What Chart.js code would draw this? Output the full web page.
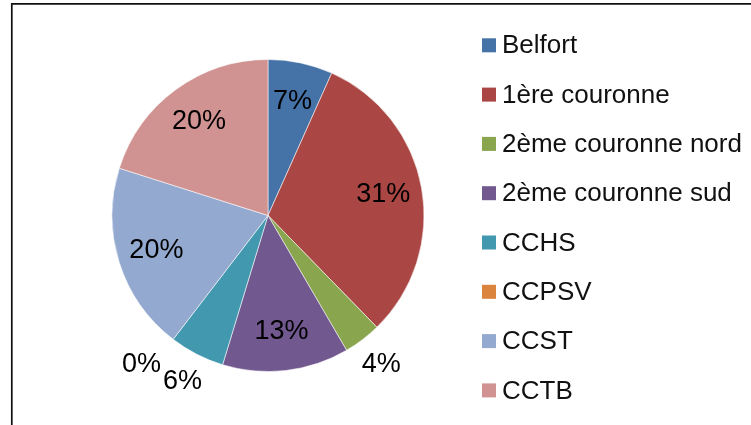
<!DOCTYPE html>
<html>
<head>
<meta charset="utf-8">
<script src="https://cdn.jsdelivr.net/npm/chart.js@4/dist/chart.umd.min.js"></script>
<style>
  html, body { margin: 0; padding: 0; background: #fff; }
  canvas { display: block; }
</style>
</head>
<body>
<canvas id="chart" width="751" height="425"></canvas>
<script>
// Share per zone
const zones = ['Belfort', '1ère couronne', '2ème couronne nord', '2ème couronne sud', 'CCHS', 'CCPSV', 'CCST', 'CCTB'];
const shares = [6.7, 31.0, 3.9, 13.1, 5.7, 0, 19.5, 20.1];
const colors = ['#4572A7', '#AA4643', '#89A54E', '#71588F', '#4198AF', '#DB843D', '#93A9CF', '#D19392'];

const FONT = '26px "Liberation Sans", Arial, sans-serif';
const LABEL_FONT = '27px "Liberation Sans", Arial, sans-serif';

// outer frame (top + left border of the original chart box)
const framePlugin = {
  id: 'frame',
  beforeDraw(chart) {
    const ctx = chart.ctx;
    ctx.save();
    ctx.strokeStyle = '#111';
    ctx.lineWidth = 1.7;
    ctx.beginPath();
    ctx.moveTo(11.8, 425);
    ctx.lineTo(11.8, 3.8);
    ctx.lineTo(751, 3.8);
    ctx.stroke();
    ctx.restore();
  }
};

// percentage labels, inside big slices, outside small ones
const pctLabels = {
  id: 'pctLabels',
  afterDatasetsDraw(chart) {
    const ctx = chart.ctx;
    const data = chart.data.datasets[0].data;
    const total = data.reduce((a, b) => a + b, 0);
    const placed = [];
    ctx.save();
    ctx.font = LABEL_FONT;
    ctx.fillStyle = '#000';
    ctx.textAlign = 'center';
    ctx.textBaseline = 'middle';
    chart.getDatasetMeta(0).data.forEach((arc, i) => {
      const p = arc.getProps(['x', 'y', 'startAngle', 'endAngle', 'outerRadius'], true);
      const pct = data[i] / total * 100;
      const txt = Math.round(pct) + '%';
      const mid = (p.startAngle + p.endAngle) / 2;
      const inside = pct >= 6.5;
      const r = p.outerRadius * (inside ? 0.75 : 1.2);
      let x = p.x + Math.cos(mid) * r;
      let y = p.y + Math.sin(mid) * r;
      const w = ctx.measureText(txt).width, h = 22;
      if (!inside) {
        placed.forEach(b => {
          if (Math.abs(b.x - x) < (b.w + w) / 2 && Math.abs(b.y - y) < (b.h + h) / 2) {
            const dir = x < p.x ? -1 : 1;
            x = b.x + dir * ((b.w + w) / 2 + 2);
          }
        });
        placed.push({ x, y, w, h });
      }
      ctx.fillText(txt, x, y);
    });
    ctx.restore();
  }
};

// legend on the right, square swatches
const sideLegend = {
  id: 'sideLegend',
  afterDraw(chart) {
    const ctx = chart.ctx;
    const labels = chart.data.labels;
    const bg = chart.data.datasets[0].backgroundColor;
    ctx.save();
    ctx.font = FONT;
    ctx.textBaseline = 'middle';
    ctx.textAlign = 'left';
    labels.forEach((lab, i) => {
      const cy = 45.3 + i * 49.3;
      ctx.fillStyle = bg[i];
      ctx.fillRect(482, cy - 7, 14, 14);
      ctx.fillStyle = '#111';
      ctx.fillText(lab, 502, cy + 1);
    });
    ctx.restore();
  }
};

new Chart(document.getElementById('chart'), {
  type: 'pie',
  data: {
    labels: zones,
    datasets: [{
      data: shares,
      backgroundColor: colors,
      borderColor: 'rgba(255,255,255,0.55)',
      borderWidth: 1
    }]
  },
  options: {
    responsive: false,
    animation: false,
    radius: 156,
    layout: { padding: { left: 112, right: 327, top: 59.5, bottom: 53.5 } },
    plugins: {
      legend: { display: false },
      tooltip: { enabled: false }
    }
  },
  plugins: [framePlugin, pctLabels, sideLegend]
});
</script>
</body>
</html>
